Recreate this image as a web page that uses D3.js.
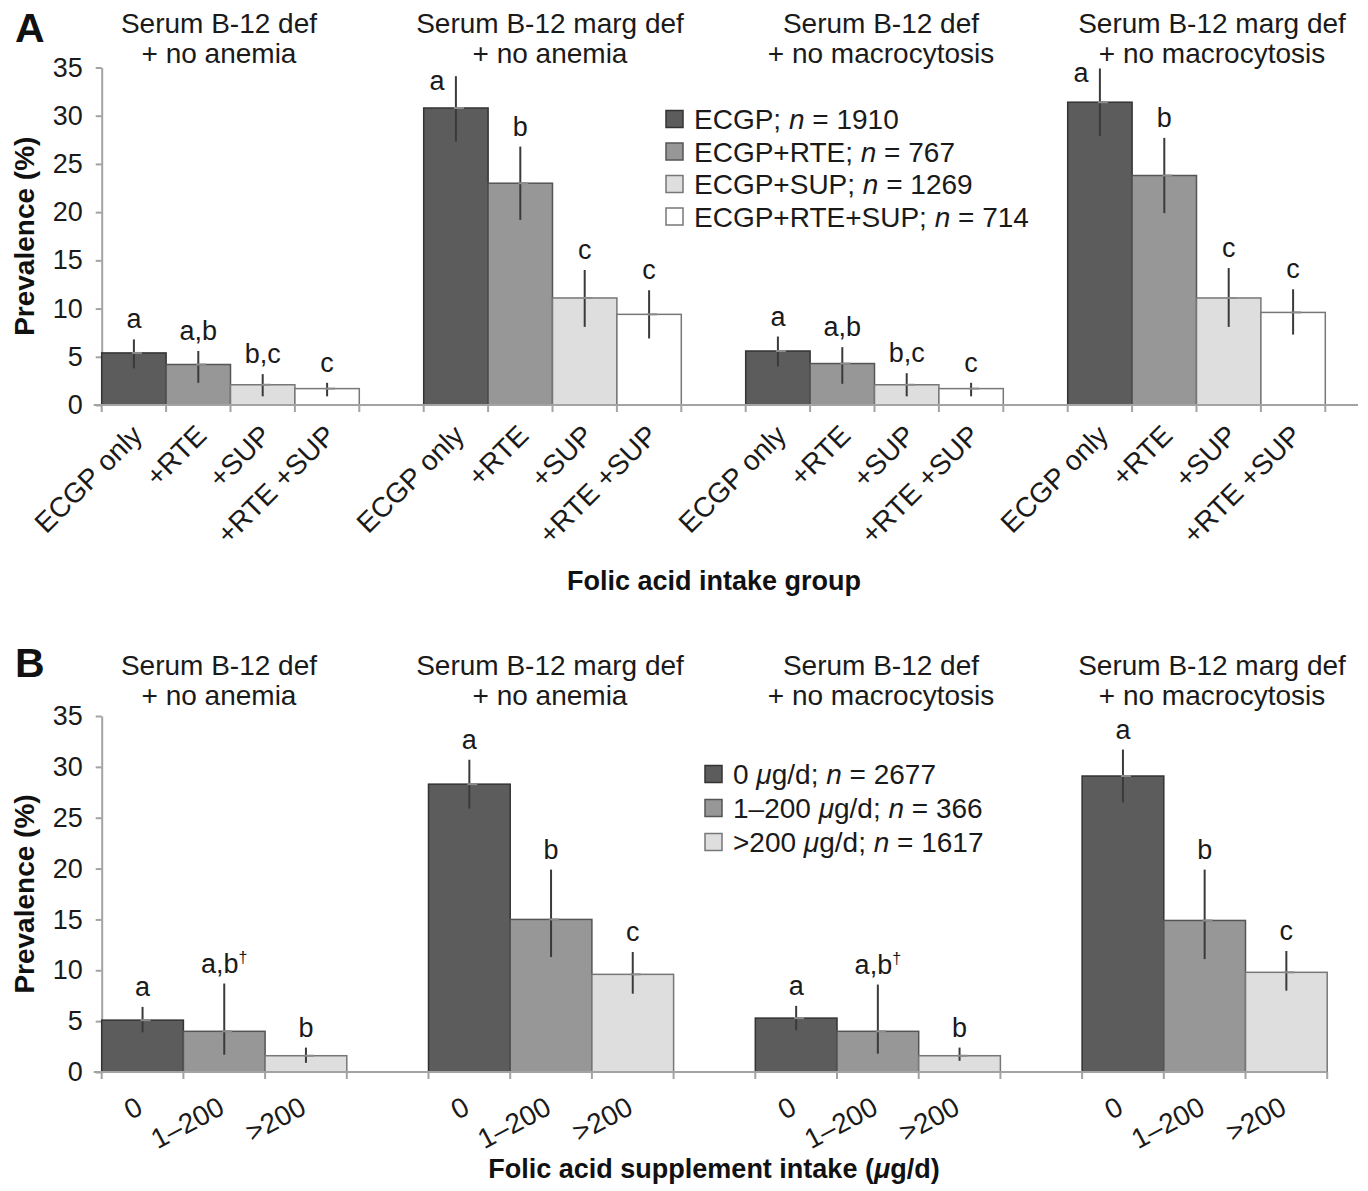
<!DOCTYPE html>
<html>
<head>
<meta charset="utf-8">
<script src="https://cdn.jsdelivr.net/npm/d3@7"></script>
<style>
  body { margin: 0; background: #fff; }
  svg { display: block; font-family: "Liberation Sans", Arial, Helvetica, sans-serif; }
</style>
</head>
<body>
<svg id="chart" width="1368" height="1191"></svg>
<script>
"use strict";

// Group titles (same in both panels)
const groupTitles = [
  ["Serum B-12 def", "+ no anemia"],
  ["Serum B-12 marg def", "+ no anemia"],
  ["Serum B-12 def", "+ no macrocytosis"],
  ["Serum B-12 marg def", "+ no macrocytosis"]
];

// Panel A: folic acid intake group
const seriesA = ["ECGP", "ECGP+RTE", "ECGP+SUP", "ECGP+RTE+SUP"];
const countsA = [1910, 767, 1269, 714];
const tickLabelsA = ["ECGP only", "+RTE", "+SUP", "+RTE +SUP"];
const valuesA = [
  [5.4, 4.2, 2.1, 1.7],
  [30.8, 23.0, 11.1, 9.4],
  [5.6, 4.3, 2.1, 1.7],
  [31.4, 23.8, 11.1, 9.6]
];
const lowA = [
  [3.8, 2.3, 0.9, 0.9],
  [27.3, 19.2, 8.1, 6.9],
  [4.0, 2.2, 0.9, 0.9],
  [27.9, 19.9, 8.1, 7.3]
];
const highA = [
  [6.8, 5.6, 3.2, 2.3],
  [34.1, 26.8, 14.0, 11.9],
  [7.1, 6.0, 3.3, 2.3],
  [34.9, 27.7, 14.2, 12.0]
];
const lettersA = [
  ["a", "a,b", "b,c", "c"],
  ["a", "b", "c", "c"],
  ["a", "a,b", "b,c", "c"],
  ["a", "b", "c", "c"]
];

// Panel B: folic acid supplement intake
const seriesB = ["0", "1\u2013200", ">200"];
const countsB = [2677, 366, 1617];
const tickLabelsB = ["0", "1\u2013200", ">200"];
const valuesB = [
  [5.1, 4.0, 1.6],
  [28.3, 15.0, 9.6],
  [5.3, 4.0, 1.6],
  [29.1, 14.9, 9.8]
];
const lowB = [
  [3.9, 1.7, 0.9],
  [25.9, 11.3, 7.7],
  [4.1, 1.8, 1.1],
  [26.5, 11.1, 8.0]
];
const highB = [
  [6.4, 8.7, 2.4],
  [30.7, 19.9, 11.8],
  [6.5, 8.6, 2.4],
  [31.7, 19.9, 11.9]
];
const lettersB = [
  ["a", "a,b\u2020", "b"],
  ["a", "b", "c"],
  ["a", "a,b\u2020", "b"],
  ["a", "b", "c"]
];

const yTicks = [0, 5, 10, 15, 20, 25, 30, 35];

const fills = ["#5c5c5c", "#979797", "#dedede", "#ffffff"];
const strokes = ["#333", "#555", "#777", "#777"];

const svg = d3.select("#chart");

drawPanel({
  letter: "A",
  letterY: 42,
  titleY: 33,
  yRange: [405, 67.5],
  slotW: 64.4,
  axisEnd: 1358,
  values: valuesA, low: lowA, high: highA, letters: lettersA,
  tickLabels: tickLabelsA,
  rotate: -45, labelDx: 10, labelY: 437,
  legend: seriesA.map((s, i) => [{t: s + "; "}, {t: "n", it: true}, {t: " = " + countsA[i]}]),
  legendX: 666, legendY: 119, legendStep: 32.5,
  xTitle: [{t: "Folic acid intake group"}],
  xTitleY: 590
});

drawPanel({
  letter: "B",
  letterY: 677,
  titleY: 675,
  yRange: [1072, 716],
  slotW: 81.7,
  axisEnd: null,
  values: valuesB, low: lowB, high: highB, letters: lettersB,
  tickLabels: tickLabelsB,
  rotate: -28, labelDx: 2, labelY: 1113,
  legend: seriesB.map((s, i) => [{t: s + " "}, {t: "\u03bc", it: true}, {t: "g/d; "}, {t: "n", it: true}, {t: " = " + countsB[i]}]),
  legendX: 705, legendY: 774, legendStep: 34,
  xTitle: [{t: "Folic acid supplement intake ("}, {t: "\u03bc", it: true}, {t: "g/d)"}],
  xTitleY: 1178
});

function drawPanel(cfg) {
  const nGroups = cfg.values.length;
  const nSeries = cfg.values[0].length;
  const nSlots = nGroups * (nSeries + 1) - 1;
  const x0 = 101.7;

  const x = d3.scaleBand()
      .domain(d3.range(nSlots))
      .range([x0, x0 + nSlots * cfg.slotW])
      .paddingInner(0)
      .paddingOuter(0);

  const y = d3.scaleLinear()
      .domain([0, 35])
      .range(cfg.yRange);

  const g = svg.append("g");

  // Flatten the data into bars
  const bars = [];
  cfg.values.forEach((row, gi) => {
    row.forEach((v, si) => {
      bars.push({
        slot: gi * (nSeries + 1) + si,
        series: si,
        value: v,
        lo: cfg.low[gi][si],
        hi: cfg.high[gi][si],
        letter: cfg.letters[gi][si],
        label: cfg.tickLabels[si]
      });
    });
  });

  // Y axis
  const yAxis = g.append("g")
      .attr("transform", "translate(" + x0 + ",0)")
      .call(d3.axisLeft(y).tickValues(yTicks).tickSize(6).tickPadding(13).tickSizeOuter(0));
  yAxis.select(".domain").attr("stroke", "#a3a3a3").attr("stroke-width", 2);
  yAxis.selectAll(".tick line").attr("stroke", "#a3a3a3").attr("stroke-width", 2);
  yAxis.selectAll(".tick text")
      .attr("fill", "#1a1a1a")
      .style("font-size", "27px")
      .style("font-family", "'Liberation Sans', Arial, sans-serif");

  // Bars
  g.selectAll(".bar")
      .data(bars)
    .enter().append("rect")
      .attr("class", "bar")
      .attr("x", d => x(d.slot))
      .attr("y", d => y(d.value))
      .attr("width", x.bandwidth())
      .attr("height", d => y(0) - y(d.value))
      .attr("fill", d => fills[d.series])
      .attr("stroke", d => strokes[d.series])
      .attr("stroke-width", 1.5);

  // X axis line and slot ticks
  const xEnd = cfg.axisEnd || x.range()[1];
  g.append("line")
      .attr("x1", x0 - 8).attr("x2", xEnd)
      .attr("y1", y(0)).attr("y2", y(0))
      .attr("stroke", "#a3a3a3").attr("stroke-width", 2);

  g.selectAll(".xtick")
      .data(d3.range(nSlots + 1))
    .enter().append("line")
      .attr("class", "xtick")
      .attr("x1", d => x0 + d * cfg.slotW)
      .attr("x2", d => x0 + d * cfg.slotW)
      .attr("y1", y(0)).attr("y2", y(0) + 7)
      .attr("stroke", "#a3a3a3").attr("stroke-width", 2);

  // Error bars
  const cx = d => x(d.slot) + x.bandwidth() / 2;
  g.selectAll(".err")
      .data(bars)
    .enter().append("line")
      .attr("class", "err")
      .attr("x1", cx).attr("x2", cx)
      .attr("y1", d => y(d.lo)).attr("y2", d => y(d.hi))
      .attr("stroke", "#3a3a3a").attr("stroke-width", 2);

  g.selectAll(".mean")
      .data(bars)
    .enter().append("line")
      .attr("class", "mean")
      .attr("x1", d => cx(d) - 2).attr("x2", d => cx(d) + 8)
      .attr("y1", d => y(d.value)).attr("y2", d => y(d.value))
      .attr("stroke", "#8c8c8c").attr("stroke-width", 2);

  // Significance letters (moved beside the error bar when it reaches the titles)
  const crowded = d => y(d.hi) - 28 < 60;
  g.selectAll(".letter")
      .data(bars)
    .enter().append("text")
      .attr("class", "letter")
      .attr("x", d => crowded(d) ? cx(d) - 19 : cx(d))
      .attr("y", d => crowded(d) ? y(d.hi) + 14 : y(d.hi) - 11)
      .attr("text-anchor", "middle")
      .style("font-size", "27px")
      .attr("fill", "#1a1a1a")
      .each(function(d) {
        const el = d3.select(this);
        const parts = d.letter.split("\u2020");
        el.append("tspan").text(parts[0]);
        if (parts.length > 1) {
          el.append("tspan").text("\u2020")
              .attr("dy", -10)
              .style("font-size", "16px");
        }
      });

  // Rotated category labels
  g.selectAll(".xlabel")
      .data(bars)
    .enter().append("text")
      .attr("class", "xlabel")
      .attr("text-anchor", "end")
      .attr("transform", d => "translate(" + (cx(d) + cfg.labelDx) + "," + cfg.labelY + ") rotate(" + cfg.rotate + ")")
      .style("font-size", "28px")
      .attr("fill", "#1a1a1a")
      .text(d => d.label);

  // Group titles
  groupTitles.forEach((lines, gi) => {
    const tx = 219 + gi * 331;
    lines.forEach((line, li) => {
      g.append("text")
          .attr("x", tx)
          .attr("y", cfg.titleY + li * 30)
          .attr("text-anchor", "middle")
          .style("font-size", "28px")
          .attr("fill", "#1a1a1a")
          .text(line);
    });
  });

  // Legend
  const leg = g.selectAll(".legend")
      .data(cfg.legend)
    .enter().append("g")
      .attr("class", "legend")
      .attr("transform", (d, i) => "translate(" + cfg.legendX + "," + (cfg.legendY + i * cfg.legendStep) + ")");

  leg.append("rect")
      .attr("x", 0).attr("y", -8.5)
      .attr("width", 17).attr("height", 17)
      .attr("fill", (d, i) => fills[i])
      .attr("stroke", (d, i) => strokes[i])
      .attr("stroke-width", 1.5);

  leg.append("text")
      .attr("x", 28)
      .attr("y", 10)
      .style("font-size", "28px")
      .attr("fill", "#1a1a1a")
      .each(function(parts) {
        const el = d3.select(this);
        parts.forEach(p => {
          el.append("tspan").text(p.t).style("font-style", p.it ? "italic" : "normal");
        });
      });

  // Axis titles
  g.append("text")
      .attr("transform", "translate(34," + ((cfg.yRange[0] + cfg.yRange[1]) / 2) + ") rotate(-90)")
      .attr("text-anchor", "middle")
      .style("font-size", "28px")
      .style("font-weight", "bold")
      .attr("fill", "#111")
      .text("Prevalence (%)");

  const xt = g.append("text")
      .attr("x", 714)
      .attr("y", cfg.xTitleY)
      .attr("text-anchor", "middle")
      .style("font-size", "27px")
      .style("font-weight", "bold")
      .attr("fill", "#111");
  cfg.xTitle.forEach(p => {
    xt.append("tspan").text(p.t).style("font-style", p.it ? "italic" : "normal");
  });

  // Panel letter
  g.append("text")
      .attr("x", 15)
      .attr("y", cfg.letterY)
      .style("font-size", "41px")
      .style("font-weight", "bold")
      .attr("fill", "#111")
      .text(cfg.letter);
}
</script>
</body>
</html>
